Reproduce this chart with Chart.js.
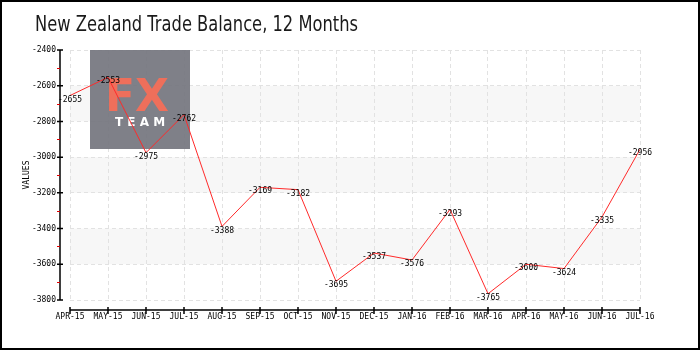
<!DOCTYPE html>
<html>
<head>
<meta charset="utf-8">
<script src="https://cdn.jsdelivr.net/npm/chart.js@4.4.0/dist/chart.umd.min.js"></script>
<style>
    body { margin: 0; background: #fff; }
    canvas { display: block; }
</style>
</head>
<body>
<canvas id="mycanvas" width="700" height="350"></canvas>
<script>
var chartTitle = 'New Zealand Trade Balance, 12 Months';
var months = ['APR-15', 'MAY-15', 'JUN-15', 'JUL-15', 'AUG-15', 'SEP-15', 'OCT-15', 'NOV-15',
              'DEC-15', 'JAN-16', 'FEB-16', 'MAR-16', 'APR-16', 'MAY-16', 'JUN-16', 'JUL-16'];
var balance = [-2655, -2553, -2975, -2762, -3388, -3169, -3182, -3695,
               -3537, -3576, -3293, -3765, -3600, -3624, -3335, -2956];
var yMin = -3800;
var yMax = -2400;
var yStep = 200;
var shadedBands = [[-2600, -2800], [-3000, -3200], [-3400, -3600]];

var smallFont = '8px "DejaVu Sans Mono", monospace';

// background stripes, logo, hand-drawn axes, title, value labels and frame
var decorations = {
    id: 'decorations',
    beforeDraw: function(chart) {
        var ctx = chart.ctx, area = chart.chartArea, y = chart.scales.y;
        ctx.save();
        ctx.fillStyle = '#f7f7f7';
        shadedBands.forEach(function(b) {
            var top = y.getPixelForValue(b[0]);
            var bottom = y.getPixelForValue(b[1]);
            ctx.fillRect(area.left, top, area.right - area.left, bottom - top);
        });
        ctx.restore();
    },
    beforeDatasetsDraw: function(chart) {
        var ctx = chart.ctx, area = chart.chartArea;
        var lx = area.left + 20, ly = area.top;
        ctx.save();
        ctx.globalAlpha = 0.93;
        ctx.fillStyle = '#75767f';
        ctx.fillRect(lx, ly, 100, 99);
        ctx.globalAlpha = 1;
        ctx.fillStyle = '#ee6f5b';
        ctx.font = 'bold 44px "DejaVu Sans", sans-serif';
        ctx.textAlign = 'center';
        ctx.textBaseline = 'alphabetic';
        ctx.fillText('FX', lx + 47, ly + 61);
        ctx.fillStyle = '#ffffff';
        ctx.font = 'bold 12px "DejaVu Sans", sans-serif';
        ctx.fillText('T E A M', lx + 50, ly + 76);
        ctx.restore();
    },
    afterDatasetsDraw: function(chart) {
        var ctx = chart.ctx;
        var pts = chart.getDatasetMeta(0).data;
        ctx.save();
        ctx.fillStyle = '#000';
        ctx.font = smallFont;
        ctx.textAlign = 'center';
        ctx.textBaseline = 'middle';
        pts.forEach(function(p, i) {
            ctx.fillText(String(balance[i]), p.x, p.y + 4);
        });
        ctx.restore();
    },
    afterDraw: function(chart) {
        var ctx = chart.ctx, area = chart.chartArea;
        var x = chart.scales.x, y = chart.scales.y;
        ctx.save();
        // y axis
        var ax = area.left - 10;
        ctx.strokeStyle = '#000';
        ctx.lineWidth = 1.5;
        ctx.beginPath();
        ctx.moveTo(ax, area.top);
        ctx.lineTo(ax, area.bottom);
        y.ticks.forEach(function(t) {
            var py = y.getPixelForValue(t.value);
            ctx.moveTo(ax - 3, py);
            ctx.lineTo(ax + 3, py);
        });
        ctx.stroke();
        ctx.strokeStyle = '#e00000';
        ctx.lineWidth = 1;
        ctx.beginPath();
        for (var v = yMin + yStep / 2; v < yMax; v += yStep) {
            var my = Math.round(y.getPixelForValue(v)) + 0.5;
            ctx.moveTo(ax - 3, my);
            ctx.lineTo(ax, my);
        }
        ctx.stroke();
        // x axis
        var ay = area.bottom + 10;
        ctx.strokeStyle = '#000';
        ctx.lineWidth = 1.5;
        ctx.beginPath();
        ctx.moveTo(area.left, ay);
        ctx.lineTo(area.right, ay);
        months.forEach(function(m, i) {
            var px = x.getPixelForValue(i);
            ctx.moveTo(px, ay - 3);
            ctx.lineTo(px, ay + 4);
        });
        ctx.stroke();
        // title, squeezed to a condensed width
        ctx.fillStyle = '#1a1a1a';
        ctx.font = '22px "DejaVu Sans", sans-serif';
        ctx.textAlign = 'left';
        ctx.textBaseline = 'alphabetic';
        var w = ctx.measureText(chartTitle).width;
        ctx.save();
        ctx.translate(35, 31);
        ctx.scale(323 / w, 1);
        ctx.fillText(chartTitle, 0, 0);
        ctx.restore();
        // frame
        ctx.lineWidth = 2;
        ctx.strokeStyle = '#000';
        ctx.strokeRect(1, 1, chart.width - 2, chart.height - 2);
        ctx.restore();
    }
};

var ctx = document.getElementById('mycanvas');

var lineGraph = new Chart(ctx, {
    type: 'line',
    data: {
        labels: months,
        datasets: [{
            label: 'Values',
            data: balance,
            borderColor: '#ff2a2a',
            borderWidth: 1,
            pointRadius: 0,
            pointHoverRadius: 0,
            fill: false,
            tension: 0
        }]
    },
    options: {
        responsive: false,
        animation: false,
        events: [],
        layout: { padding: { top: 50, right: 60, left: 0, bottom: 0 } },
        plugins: {
            legend: { display: false },
            tooltip: { enabled: false },
            title: { display: false }
        },
        scales: {
            x: {
                offset: false,
                afterFit: function(scale) { scale.height = 50; },
                border: { display: false, dash: [4, 3] },
                grid: { color: '#e2e2e2', drawTicks: false },
                ticks: {
                    color: '#000',
                    font: { family: 'DejaVu Sans Mono', size: 8 },
                    padding: 12,
                    maxRotation: 0,
                    autoSkip: false
                }
            },
            y: {
                min: yMin,
                max: yMax,
                afterFit: function(scale) { scale.width = 70; },
                border: { display: false, dash: [4, 3] },
                grid: { color: '#e2e2e2', drawTicks: false },
                ticks: {
                    stepSize: yStep,
                    color: '#000',
                    font: { family: 'DejaVu Sans Mono', size: 8 },
                    padding: 14,
                    callback: function(value) { return String(value); }
                },
                title: {
                    display: true,
                    text: 'VALUES',
                    color: '#000',
                    font: { family: 'DejaVu Sans Mono', size: 8 },
                    padding: { top: 22, bottom: 0 }
                }
            }
        }
    },
    plugins: [decorations]
});
</script>
</body>
</html>
